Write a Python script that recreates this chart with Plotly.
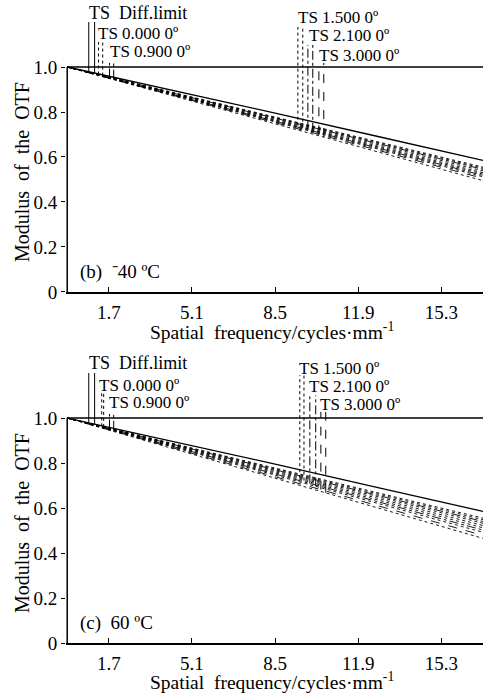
import plotly.graph_objects as go

FONT = "Liberation Serif"

# ---------------- data ----------------
freq = [0, 4.25, 8.5, 12.75, 17.0]
x_ticks = [1.7, 5.1, 8.5, 11.9, 15.3]
x_ticklabels = ["1.7", "5.1", "8.5", "11.9", "15.3"]
y_ticks = [0, 0.2, 0.4, 0.6, 0.8, 1.0]
y_ticklabels = ["0", "0.2", "0.4", "0.6", "0.8", "1.0"]

series_names = ["Diff.limit", "0.000 T", "0.000 S", "0.900 T", "0.900 S",
                "1.500 T", "1.500 S", "2.100 T", "2.100 S", "3.000 T", "3.000 S"]
series_dash = ["solid", "dot", "dot", "dashdot", "dot",
               "dot", "dot", "dashdot", "dot", "dash", "dot"]

# panel (b) -40 C
mtf_b = [
    [1, 0.898, 0.795, 0.690, 0.585],
    [1, 0.889, 0.778, 0.666, 0.555],
    [1, 0.888, 0.775, 0.663, 0.550],
    [1, 0.886, 0.773, 0.659, 0.545],
    [1, 0.885, 0.769, 0.654, 0.538],
    [1, 0.883, 0.765, 0.648, 0.530],
    [1, 0.881, 0.762, 0.643, 0.524],
    [1, 0.880, 0.759, 0.639, 0.518],
    [1, 0.878, 0.756, 0.634, 0.512],
    [1, 0.876, 0.753, 0.629, 0.505],
    [1, 0.874, 0.748, 0.621, 0.495],
]
# panel (c) 60 C
mtf_c = [
    [1, 0.898, 0.795, 0.690, 0.585],
    [1, 0.889, 0.778, 0.666, 0.555],
    [1, 0.887, 0.774, 0.661, 0.548],
    [1, 0.885, 0.770, 0.655, 0.540],
    [1, 0.883, 0.766, 0.649, 0.532],
    [1, 0.881, 0.761, 0.642, 0.522],
    [1, 0.878, 0.756, 0.634, 0.512],
    [1, 0.876, 0.751, 0.627, 0.502],
    [1, 0.873, 0.746, 0.619, 0.492],
    [1, 0.870, 0.739, 0.609, 0.478],
    [1, 0.866, 0.733, 0.599, 0.465],
]

label_texts = ["TS  Diff.limit", "TS 0.000 0\u00ba", "TS 0.900 0\u00ba",
               "TS 1.500 0\u00ba", "TS 2.100 0\u00ba", "TS 3.000 0\u00ba"]
label_series = [(0, 0), (1, 2), (3, 4), (5, 6), (7, 8), (9, 10)]
label_dash = ["solid", "dot", "dashdot", "dot", "dashdot", "dash"]

# label text positions (x left, y middle) and leader lines (x pair, top y)
label_x_b = [0.86, 1.22, 1.71, 9.38, 9.83, 10.25]
label_y_b = [1.240, 1.151, 1.067, 1.222, 1.138, 1.053]
leader_x_b = [(0.88, 1.12), (1.28, 1.45), (1.73, 1.90), (9.43, 9.63), (9.84, 10.04), (10.29, 10.49)]
leader_top_b = [1.20, 1.111, 1.018, 1.178, 1.098, 1.018]

label_x_c = [0.86, 1.26, 1.68, 9.45, 9.83, 10.28]
label_y_c = [1.243, 1.145, 1.069, 1.222, 1.138, 1.058]
leader_x_c = [(0.88, 1.12), (1.41, 1.49), (1.73, 1.90), (9.51, 9.68), (9.92, 10.16), (10.37, 10.57)]
leader_top_c = [1.20, 1.11, 1.018, 1.19, 1.10, 1.027]

panel_titles = ["(b)  \u207b40 \u00baC", "(c)  60 \u00baC"]
x_title = "Spatial  frequency/cycles\u00b7mm<sup>-1</sup>"
y_title = "Modulus  of  the  OTF"


def interp(xs, ys, x):
    for i in range(len(xs) - 1):
        if xs[i] <= x <= xs[i + 1]:
            t = (x - xs[i]) / (xs[i + 1] - xs[i])
            return ys[i] + t * (ys[i + 1] - ys[i])
    return ys[-1]


fig = go.Figure()
annotations = []

panels = [
    ("x", "y", mtf_b, label_x_b, label_y_b, leader_x_b, leader_top_b, panel_titles[0], 0.4853),
    ("x2", "y2", mtf_c, label_x_c, label_y_c, leader_x_c, leader_top_c, panel_titles[1], -0.0590),
]

for xa, ya, mtf, lx, ly, ldx, ldt, ptitle, xt_y in panels:
    # frame lines: y-axis line and the 1.0 line
    fig.add_trace(go.Scatter(x=[0, 0], y=[0, 1], mode="lines", xaxis=xa, yaxis=ya,
                             line=dict(color="black", width=1.5), showlegend=False, hoverinfo="skip"))
    fig.add_trace(go.Scatter(x=[0, 17], y=[1, 1], mode="lines", xaxis=xa, yaxis=ya,
                             line=dict(color="black", width=1.5), showlegend=False, hoverinfo="skip"))
    for vals, dash in zip(mtf, series_dash):
        fig.add_trace(go.Scatter(x=freq, y=vals, mode="lines", xaxis=xa, yaxis=ya,
                                 line=dict(color="black", width=1.3 if dash == "solid" else 0.9, dash=dash),
                                 showlegend=False, hoverinfo="skip"))
    for k, txt in enumerate(label_texts):
        for j, sidx in enumerate(label_series[k]):
            xx = ldx[k][j]
            ybot = interp(freq, mtf[sidx], xx)
            fig.add_trace(go.Scatter(x=[xx, xx], y=[ybot, ldt[k]], mode="lines", xaxis=xa, yaxis=ya,
                                     line=dict(color="black", width=1.0, dash=label_dash[k]),
                                     showlegend=False, hoverinfo="skip"))
        annotations.append(dict(x=lx[k], y=ly[k], xref=xa, yref=ya, text=txt, showarrow=False,
                                xanchor="left", yanchor="middle", borderpad=0,
                                font=dict(family=FONT, size=18 if k == 0 else 17, color="black")))
    annotations.append(dict(x=0.45, y=0.089, xref=xa, yref=ya, text=ptitle, showarrow=False,
                            xanchor="left", yanchor="middle",
                            font=dict(family=FONT, size=19, color="black")))
    annotations.append(dict(x=0.494, y=xt_y, xref="paper", yref="paper",
                            text=x_title, showarrow=False,
                            xanchor="center", yanchor="middle",
                            font=dict(family=FONT, size=19.5, color="black")))
    annotations.append(dict(x=-0.1055, y=0.533, xref="paper", yref=ya,
                            text=y_title, showarrow=False, textangle=-90,
                            xanchor="center", yanchor="middle",
                            font=dict(family=FONT, size=20, color="black")))

xaxis_common = dict(range=[-0.05, 17], tickvals=x_ticks, ticktext=x_ticklabels,
                    ticks="inside", ticklen=5, tickwidth=1.2, tickcolor="black",
                    showline=True, linecolor="black", linewidth=1.5, showgrid=False,
                    zeroline=False, tickfont=dict(family=FONT, size=19, color="black"),
                    ticklabelstandoff=2, fixedrange=True)
yaxis_common = dict(range=[0, 1.2978], tickvals=y_ticks, ticktext=y_ticklabels,
                    ticks="outside", ticklen=4, tickwidth=1.2, tickcolor="black",
                    showline=False, showgrid=False, zeroline=False,
                    tickfont=dict(family=FONT, size=19, color="black"), fixedrange=True)

fig.update_layout(
    width=483, height=693,
    margin=dict(l=66, r=0, t=0, b=50),
    paper_bgcolor="white", plot_bgcolor="white",
    xaxis=dict(domain=[0, 1], anchor="y", **xaxis_common),
    yaxis=dict(domain=[0.5459, 1.0], anchor="x", **yaxis_common),
    xaxis2=dict(domain=[0, 1], anchor="y2", **xaxis_common),
    yaxis2=dict(domain=[0, 0.4541], anchor="x2", **yaxis_common),
    annotations=annotations,
    showlegend=False,
)

fig.write_html("out.html", config={"displayModeBar": False},
               post_script="document.body.style.margin='0';document.body.style.overflow='hidden';")
